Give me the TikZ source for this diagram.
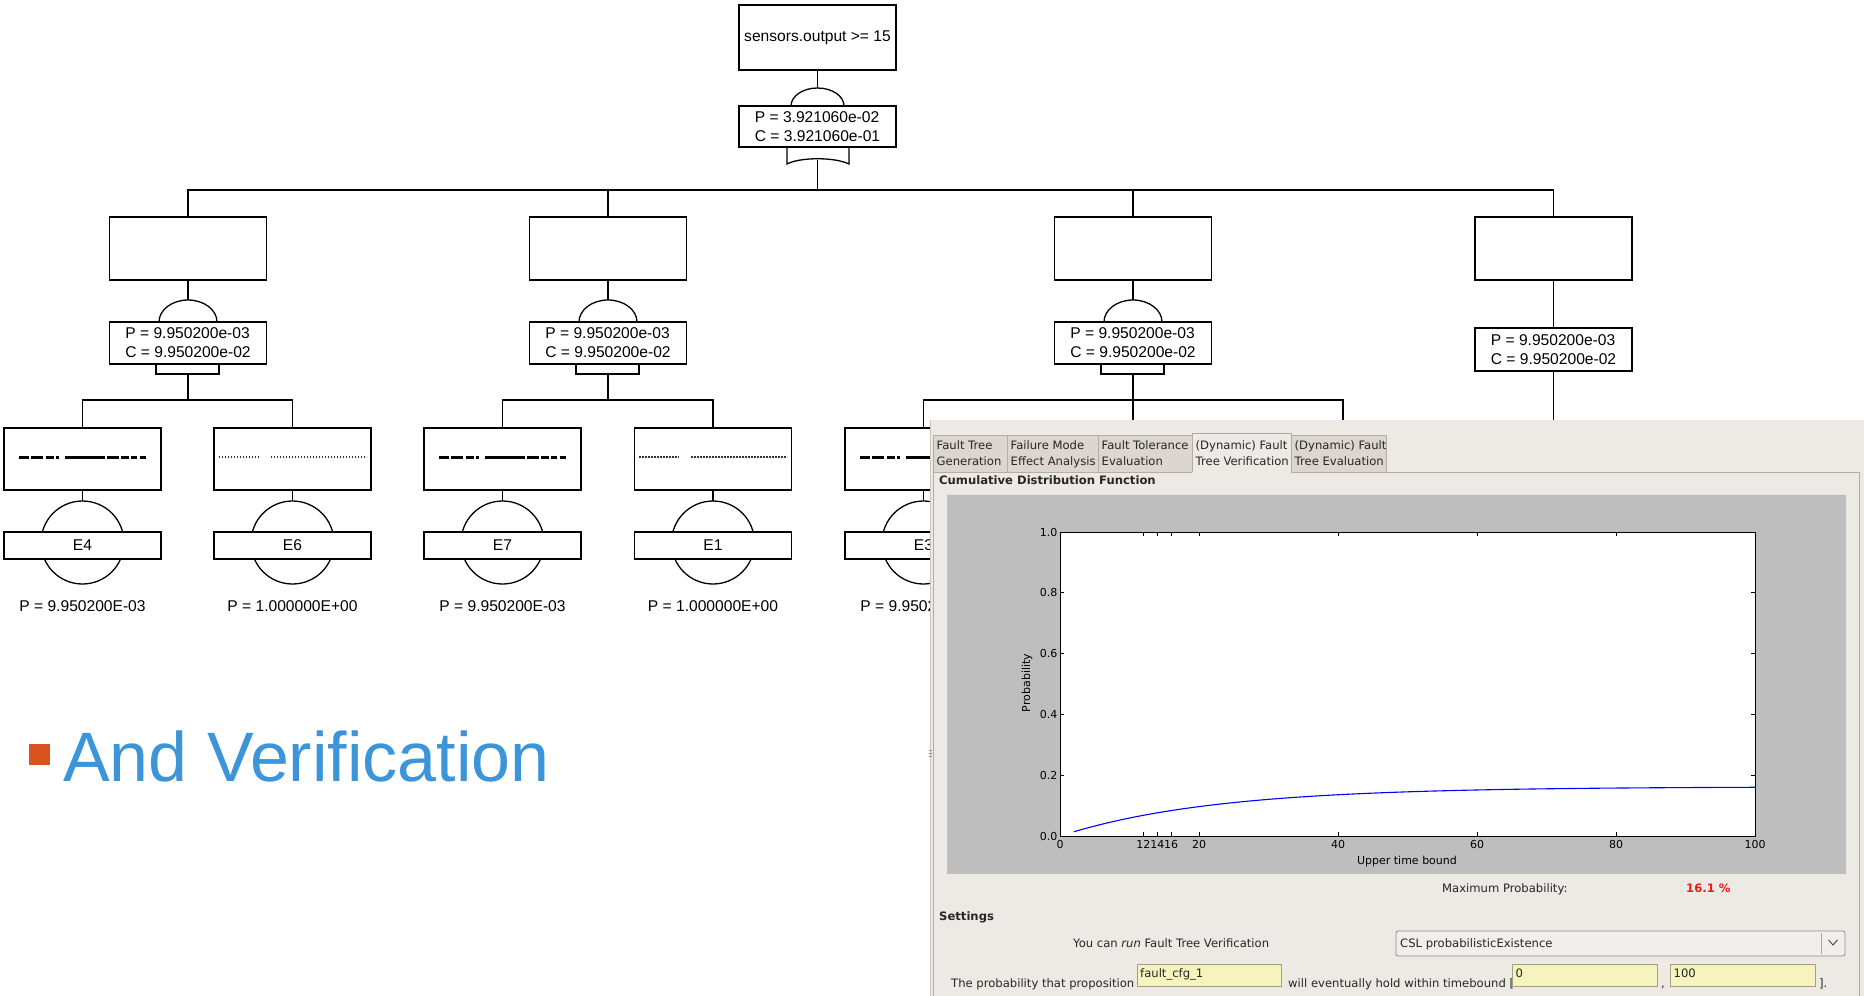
\documentclass[tikz,border=0pt]{standalone}
\usepackage{fontspec}
\setmainfont{Liberation Sans}
\newfontfamily\guifam{DejaVu Sans}
\newcommand\treefont{\fontsize{15.6}{19}\selectfont}
\newcommand\guifont{\guifam\fontsize{11.6}{14}\selectfont}
\newcommand\tickfont{\guifam\fontsize{11}{13}\selectfont}

\definecolor{panelbg}{HTML}{EDEAE5}
\definecolor{tabbg}{HTML}{DCD6CE}
\definecolor{framecol}{HTML}{B5ADA5}
\definecolor{plotgrey}{HTML}{BEBEBE}
\definecolor{fieldbg}{HTML}{F5F4BE}
\definecolor{fieldline}{HTML}{A3A184}
\definecolor{combobg}{HTML}{F1EFEC}
\definecolor{guitext}{HTML}{262626}
\definecolor{titleblue}{HTML}{3D95D9}
\definecolor{bulletred}{HTML}{D9531E}
\definecolor{maxred}{HTML}{F01818}

% one level-2 gate: event box, AND arc, probability box, bottom bracket
\newcommand\midgate[2]{%
  \node[eventbox] (#1) at (#2,248.5) {};
  \node[probbox] (#1P) at (#2,343) {P = 9.950200e-03\\C = 9.950200e-02};
  \draw[tl] (#1.north) -- ++(0,-27);
  \draw[tl] (#1.south) -- (#2,300);
  \draw[tl] ({#2-29},322) arc[start angle=180,end angle=360,x radius=29,y radius=22];
  \draw[tl] ({#2-32},364) rectangle ({#2+31},374);
  \draw[tl] (#2,374) -- (#2,400);
}
% one basic event: box with its label, circle, event name and probability
\newcommand\leafevent[5]{%
  \node[eventbox, minimum height=62pt] (#1) at (#2,459) {};
  \draw[tl] (#1.south) -- (#2,501);
  \draw[tl] (#2,542.5) circle[radius=41.5];
  \node[ebox] (#1E) at (#2,545.5) {#3};
  \node[ptext] (#1T) at (#2,606) {P = #4};
  \ifx#5A
    \draw[garbA] ({#2-64},457) -- ({#2+63},457);
  \else
    \draw[garbB] ({#2-74},457) -- ({#2-34},457);
    \draw[garbB] ({#2-22},457) -- ({#2+74},457);
  \fi
}

\begin{document}
\begin{tikzpicture}[x=1pt,y=-1pt,
  tl/.style={line width=1.3pt, black},
  eventbox/.style={draw, line width=1.3pt, fill=white, minimum width=157pt,
    minimum height=63pt, inner sep=0pt, outer sep=0pt, font=\treefont},
  probbox/.style={draw, line width=1.3pt, fill=white, minimum width=157pt,
    minimum height=42pt, inner sep=0pt, outer sep=0pt, align=left, font=\treefont},
  ebox/.style={draw, line width=1.3pt, fill=white, minimum width=157pt,
    minimum height=27pt, inner sep=0pt, outer sep=0pt, font=\treefont},
  ptext/.style={inner sep=0pt, font=\treefont},
  garbA/.style={line width=3pt, black,
    dash pattern=on 10pt off 2pt on 12pt off 3pt on 8pt off 2pt on 3pt off 6pt on 40pt off 2pt on 12pt off 2pt on 8pt off 2pt on 6pt off 3pt},
  garbB/.style={line width=2pt, black!80, dash pattern=on 1.6pt off 1.4pt},
  gui/.style={inner sep=0pt, font=\guifont, text=guitext, anchor=base west},
  guib/.style={inner sep=0pt, font=\guifont\bfseries, text=guitext, anchor=base west},
  tick/.style={inner sep=0pt, font=\tickfont, text=black},
  tabbox/.style={draw=framecol, fill=tabbg, line width=0.8pt},
  field/.style={draw=fieldline, fill=fieldbg, line width=0.8pt},
]
\useasboundingbox (0,0) rectangle (1864,996);
\fill[white] (0,0) rectangle (1864,996);

% ---------- fault tree ----------
\node[eventbox, minimum height=65pt] (top) at (817.5,37.5) {sensors.output >= 15};
\node[probbox, minimum height=41pt] (topP) at (817.5,126.5) {P = 3.921060e-02\\C = 3.921060e-01};
\draw[tl] (top.south) -- (817.5,88);
\draw[tl] (791,106) arc[start angle=180,end angle=360,x radius=26.5,y radius=18];
\draw[tl] (787,147) -- (787,164) .. controls (800,157) and (835,157) .. (849,164) -- (849,147);
\draw[tl] (817.5,160) -- (817.5,190);

\midgate{g1}{188}
\midgate{g2}{608}
\midgate{g3}{1133}
\node[eventbox] (g4) at (1553.5,248.5) {};
\node[probbox, minimum height=43pt] (g4P) at (1553.5,349.5) {P = 9.950200e-03\\C = 9.950200e-02};
\draw[tl] (g4.south) -- (g4P.north);
\draw[tl] (g4P.south) -- (1553.5,440);
\draw[tl] (g1.north) -- ++(0,-27) -| (g4.north);

\leafevent{e4}{82.5}{E4}{9.950200E-03}{A}
\leafevent{e6}{292.5}{E6}{1.000000E+00}{B}
\leafevent{e7}{502.5}{E7}{9.950200E-03}{A}
\leafevent{e1}{713}{E1}{1.000000E+00}{B}
\leafevent{e3}{923.5}{E3}{9.950200E-03}{A}
\draw[tl] (e4.north) -- ++(0,-28) -| (e6.north);
\draw[tl] (e7.north) -- ++(0,-28) -| (e1.north);
\coordinate (g3r) at (1343,440);
\draw[tl] (e3.north) -- ++(0,-28) -| (g3r);
\draw[tl] (1133,400) -- (1133,440);

% ---------- slide bullet ----------
\node[fill=bulletred, minimum size=21pt, inner sep=0pt] (bullet) at (39.5,754.5) {};
\node[anchor=base west, inner sep=0pt, font=\fontsize{70}{80}\selectfont, text=titleblue] (title) at (63,781) {And Verification};

% ---------- tool window ----------
\fill[panelbg] (930,420) rectangle (1864,996);
\draw[framecol!70, line width=0.8pt] (930.5,420) -- (930.5,996);
\draw[framecol, line width=0.8pt] (933.5,472) -- (933.5,996);
\foreach \yy in {750,753,756} \draw[black!45, line width=0.6pt] (929,\yy) -- (932,\yy);
\draw[framecol, line width=0.8pt] (933.5,472) -- (1859,472) -- (1859,996);

% tabs
\draw[tabbox] (933.5,435) rectangle (1007,472);
\draw[tabbox] (1007,435) rectangle (1098,472);
\draw[tabbox] (1098,435) rectangle (1192,472);
\draw[tabbox] (1291,435) rectangle (1386,472);
\fill[panelbg] (1192.4,433) rectangle (1290.6,473);
\draw[framecol, line width=0.8pt] (1192,472) -- (1192,433) -- (1291,433) -- (1291,472);
\foreach \i/\x/\u/\v in {1/933/Fault Tree/Generation,
    2/1007/Failure Mode/Effect Analysis,
    3/1098/Fault Tolerance/Evaluation,
    4/1192/(Dynamic) Fault/Tree Verification,
    5/1291/(Dynamic) Fault/Tree Evaluation}{
  \node[gui] (tab\i a) at (\x+3.5,449) {\u};
  \node[gui] (tab\i b) at (\x+3.5,465) {\v};
}
\node[guib] (cdf) at (939,484.5) {Cumulative Distribution Function};

% plot
\fill[plotgrey] (947,494) rectangle (1847,874);
\draw[white!60!plotgrey, line width=1pt] (947,494.5) -- (1846.5,494.5) -- (1846.5,874);
\fill[white] (1060,532) rectangle (1755,836);
\draw[black, line width=0.9pt] (1060,532) rectangle (1755,836);
\foreach \t in {12,14,16,20,40,60,80}{
  \draw[black, line width=0.8pt] ({1060+6.95*\t},836) -- ++(0,-4);
  \draw[black, line width=0.8pt] ({1060+6.95*\t},532) -- ++(0,4);
}
\foreach \p in {0.2,0.4,0.6,0.8}{
  \draw[black, line width=0.8pt] (1060,{836-304*\p}) -- ++(4,0);
  \draw[black, line width=0.8pt] (1755,{836-304*\p}) -- ++(-4,0);
}
\foreach \t in {0,12,14,16,20,40,60,80,100}
  \node[tick, anchor=north] (xl\t) at ({1060+6.95*\t},840) {\t};
\foreach \p/\l in {0/0.0,0.2/0.2,0.4/0.4,0.6/0.6,0.8/0.8,1/1.0}
  \node[tick, anchor=east] (yl\l) at (1057.5,{836-304*\p}) {\l};
\node[tick] (xlabel) at (1407,861) {Upper time bound};
\node[tick, rotate=90] (ylabel) at (1027,683) {Probability};
\draw[blue, line width=1.1pt] plot[domain=2:100, samples=80, smooth]
  ({1060+6.95*\x},{836-304*0.162*(1-exp(-\x/22))});

\node[gui] (maxlbl) at (1442,892) {Maximum Probability:};
\node[guib, text=maxred] (maxval) at (1686,892) {16.1 \%};

% settings
\node[guib] (settings) at (939,920) {Settings};
\node[gui] (runlbl) at (1073,947) {You can \textit{run} Fault Tree Verification};
\draw[draw=black!45, fill=combobg, rounded corners=2pt, line width=0.8pt] (1396,931) rectangle (1845,956);
\draw[black!35, line width=0.8pt] (1821,933) -- (1821,954);
\draw[black!75, line width=0.9pt] (1828.5,940) -- (1833,945) -- (1837.5,940);
\node[gui] (combo) at (1400,947) {CSL probabilisticExistence};

\node[gui] (propA) at (951,987) {The probability that proposition};
\draw[field] (1137,964) rectangle (1281,986);
\node[gui] (propF) at (1140,977) {fault\_cfg\_1};
\node[gui] (propB) at (1288,987) {will eventually hold within timebound [};
\draw[field] (1512,964) rectangle (1657,986);
\node[gui] (lowF) at (1515.5,977) {0};
\node[gui] (comma) at (1661,987) {,};
\draw[field] (1670,964) rectangle (1815,986);
\node[gui] (upF) at (1673.5,977) {100};
\node[gui] (close) at (1819,987) {].};
\end{tikzpicture}
\end{document}
